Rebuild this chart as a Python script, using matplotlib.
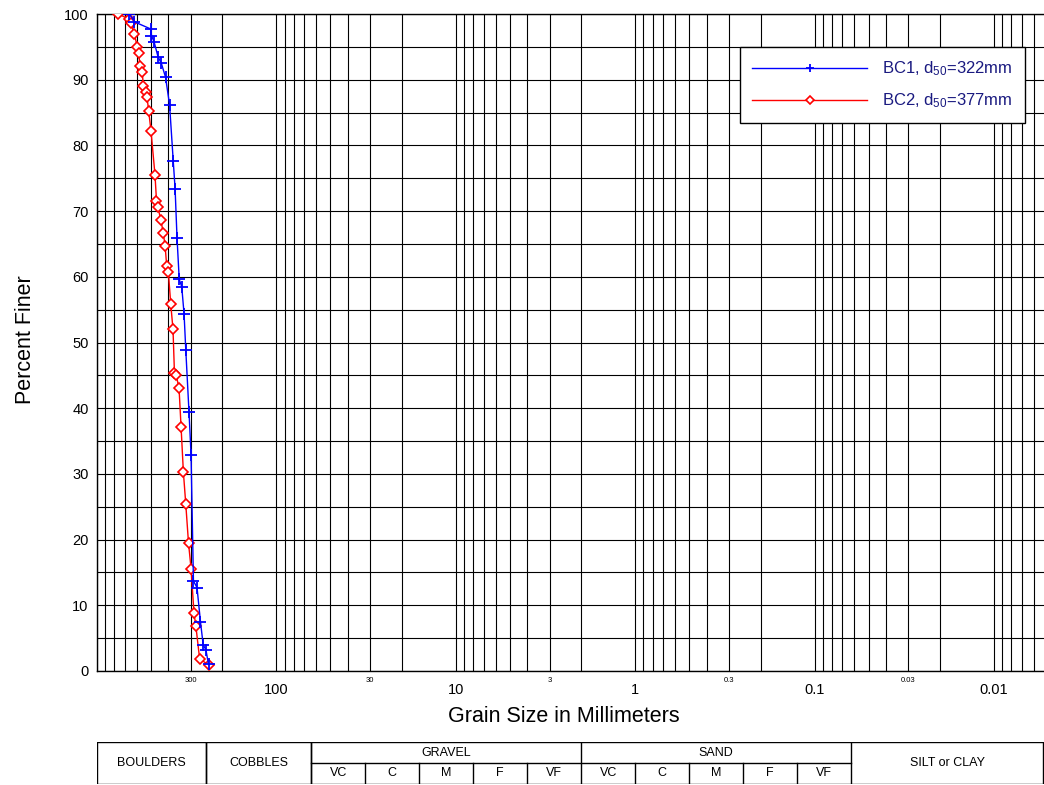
import matplotlib.pyplot as plt
import numpy as np
from matplotlib.ticker import LogLocator, NullFormatter, MultipleLocator

plt.rcParams['font.family'] = ['Liberation Sans', 'DejaVu Sans']
plt.rcParams['mathtext.fontset'] = 'custom'
plt.rcParams['mathtext.rm'] = 'Liberation Sans'
plt.rcParams['mathtext.it'] = 'Liberation Sans:italic'

# grain size (mm) and percent finer
bc1_size = [659, 618, 500, 497, 481, 457, 438, 415, 394, 376, 367, 358, 348, 337,
            327, 320, 307, 299, 290, 277, 265, 256, 247, 239]
bc1_finer = [100, 98.8, 97.7, 96.7, 95.8, 93.5, 92.5, 90.4, 86.2, 77.7, 73.4, 65.9,
             59.6, 58.5, 54.3, 48.9, 39.4, 32.9, 13.7, 12.7, 7.5, 4.0, 3.2, 1.0]

bc2_size = [761, 661, 649, 620, 596, 586, 576, 559, 552, 535, 526, 515, 500, 475,
            466, 458, 440, 427, 417, 409, 400, 388, 377, 370, 362, 349, 340, 330,
            320, 309, 299, 288, 281, 268, 239]
bc2_finer = [100, 99.2, 98.7, 97.0, 95.0, 94.1, 92.1, 91.1, 89.1, 88.2, 87.3, 85.2,
             82.2, 75.5, 71.6, 70.6, 68.6, 66.6, 64.7, 61.7, 60.7, 55.8, 52.0, 45.3,
             45.0, 43.1, 37.2, 30.3, 25.4, 19.5, 15.6, 8.8, 6.8, 1.9, 0.9]

series_labels = ['BC1, d$_{\\mathrm{50}}$=322mm', 'BC2, d$_{\\mathrm{50}}$=377mm']

big_ticks = [100, 10, 1, 0.1, 0.01]
big_tick_labels = ['100', '10', '1', '0.1', '0.01']
small_ticks = [300, 30, 3, 0.3, 0.03]
small_tick_labels = ['300', '30', '3', '0.3', '0.03']

# size class table: (left edge, right edge, label)
main_classes = [(1000, 248, 'BOULDERS'), (248, 64, 'COBBLES'),
                (0.0625, 0.00533, 'SILT or CLAY')]
group_classes = [(64, 2, 'GRAVEL'), (2, 0.0625, 'SAND')]
sub_edges_gravel = [64, 32, 16, 8, 4, 2]
sub_edges_sand = [2, 1, 0.5, 0.25, 0.125, 0.0625]
sub_labels = ['VC', 'C', 'M', 'F', 'VF']

fig = plt.figure(figsize=(10.44, 7.85), dpi=100)
ax = fig.add_axes([97/1044, 114/785, 951/1044, 657/785])

ax.set_xscale('log')
ax.set_xlim(1000, 0.005)
ax.set_ylim(0, 100)

ax.xaxis.set_major_locator(LogLocator(base=10, numticks=20))
ax.xaxis.set_minor_locator(LogLocator(base=10, subs=np.arange(2, 10), numticks=20))
ax.xaxis.set_major_formatter(NullFormatter())
ax.xaxis.set_minor_formatter(NullFormatter())
ax.yaxis.set_major_locator(MultipleLocator(10))
ax.yaxis.set_minor_locator(MultipleLocator(5))
ax.grid(which='both', color='black', linewidth=0.8)
ax.set_axisbelow(True)
ax.tick_params(which='both', length=0)
ax.tick_params(axis='y', labelsize=10.5, pad=6)
for s in ax.spines.values():
    s.set_linewidth(1.0)

ax.plot(bc2_size, bc2_finer, color='red', linewidth=1, marker='D', markersize=5.5,
        markerfacecolor='white', markeredgecolor='red', markeredgewidth=1.2,
        label=series_labels[1], zorder=3)
ax.plot(bc1_size, bc1_finer, color='blue', linewidth=1, marker='+', markersize=8.5,
        markeredgewidth=1.3, label=series_labels[0], zorder=4)

trans = ax.get_xaxis_transform()
for v, t in zip(big_ticks, big_tick_labels):
    ax.text(v, -0.029, t, transform=trans, ha='center', va='center', fontsize=10.5)
for v, t in zip(small_ticks, small_tick_labels):
    ax.text(v, -0.014, t, transform=trans, ha='center', va='center', fontsize=5.5)

ax.set_xlabel('Grain Size in Millimeters', fontsize=15.5, labelpad=22)
ax.xaxis.label.set_x(0.491)
ax.set_ylabel('Percent Finer', fontsize=15.5, labelpad=20)
ax.yaxis.label.set_y(0.505)

h, l = ax.get_legend_handles_labels()
leg = ax.legend(h[::-1], l[::-1], loc='upper right', bbox_to_anchor=(0.976, 0.950),
                borderaxespad=0, fontsize=12, handlelength=6.9, numpoints=1,
                markerscale=0.7, fancybox=False, framealpha=1, edgecolor='black',
                borderpad=0.75, labelspacing=0.8, handletextpad=0.9)
leg.get_frame().set_linewidth(1.0)
for t in leg.get_texts():
    t.set_color('#1a1a80')

# classification table under the chart
tb = fig.add_axes([97/1044, 1/785, 951/1044, 42/785])
tb.set_xscale('log')
tb.set_xlim(1000, 0.005)
tb.set_ylim(0, 2)
tb.axis('off')
kw = dict(color='black', linewidth=1.0)
tb.plot([1000, 0.00533], [2, 2], **kw)
tb.plot([1000, 0.00533], [0, 0], **kw)
tb.plot([64, 0.0625], [1, 1], **kw)
for left, right, name in main_classes:
    tb.plot([left, left], [0, 2], **kw)
    tb.plot([right, right], [0, 2], **kw)
    tb.text(np.sqrt(left*right), 1, name, ha='center', va='center', fontsize=9)
for left, right, name in group_classes:
    tb.plot([left, left], [0, 2], **kw)
    tb.text(np.sqrt(left*right), 1.5, name, ha='center', va='center', fontsize=9)
for edges in (sub_edges_gravel, sub_edges_sand):
    for i, name in enumerate(sub_labels):
        a, b = edges[i], edges[i+1]
        if i > 0:
            tb.plot([a, a], [0, 1], **kw)
        tb.text(np.sqrt(a*b), 0.5, name, ha='center', va='center', fontsize=9)

fig.savefig('out.png', dpi=100)
